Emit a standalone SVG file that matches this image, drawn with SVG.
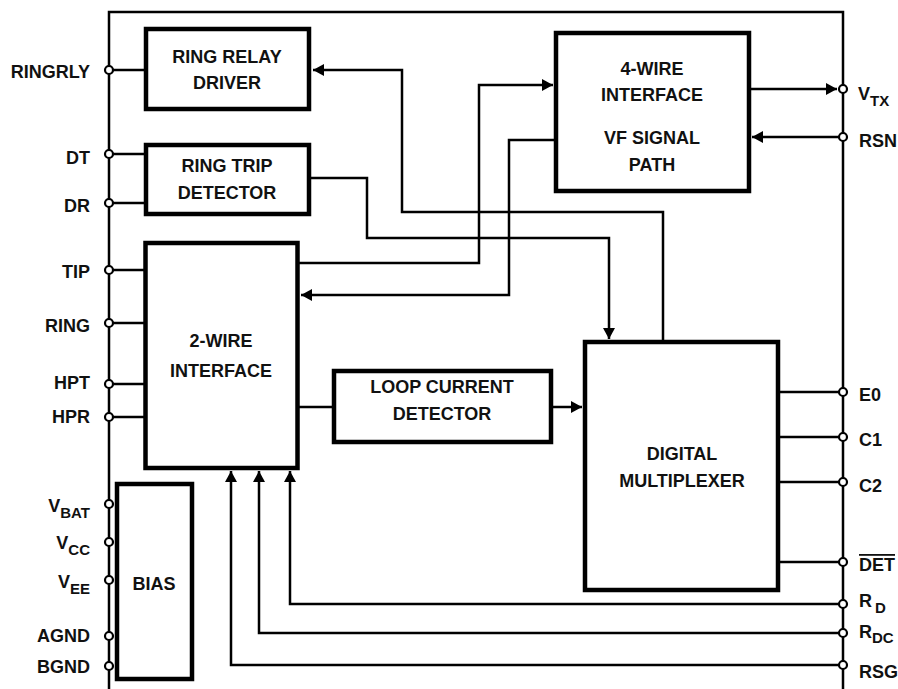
<svg xmlns="http://www.w3.org/2000/svg" width="898" height="689" viewBox="0 0 898 689">
<style>
.box{fill:#fff;stroke:#000;stroke-width:4.5}
.w{fill:none;stroke:#000;stroke-width:2.5}
.pin{fill:#fff;stroke:#000;stroke-width:2.2}
text{font-family:"Liberation Sans",Arial,sans-serif;font-weight:bold;font-size:18px;fill:#111}
.c{text-anchor:middle}
.e{text-anchor:end}
.s{font-size:15px}
</style>
<defs>
<marker id="ah" viewBox="0 0 11 12" refX="11" refY="6" markerWidth="11" markerHeight="12" markerUnits="userSpaceOnUse" orient="auto">
<path d="M0,0 L11,6 L0,12 Z" fill="#000"/>
</marker>
</defs>
<rect width="898" height="689" fill="#fff"/>
<g id="frame">
<path class="w" d="M109,689 V12 H843 V689"/>
</g>
<g id="connectors">
<path class="w" d="M109,70 H146"/>
<path class="w" d="M109,154 H146"/>
<path class="w" d="M109,203 H146"/>
<path class="w" d="M109,270 H146"/>
<path class="w" d="M109,323 H146"/>
<path class="w" d="M109,384 H146"/>
<path class="w" d="M109,417 H146"/>
<path class="w" d="M663,342 V212 H402 V70 H313" marker-end="url(#ah)"/>
<path class="w" d="M309,178 H367 V238 H609 V339" marker-end="url(#ah)"/>
<path class="w" d="M298,263 H479 V85 H553" marker-end="url(#ah)"/>
<path class="w" d="M555,140 H509 V295 H301" marker-end="url(#ah)"/>
<path class="w" d="M298,407 H334"/>
<path class="w" d="M551,407 H582" marker-end="url(#ah)"/>
<path class="w" d="M749,89 H837" marker-end="url(#ah)"/>
<path class="w" d="M843,137 H752" marker-end="url(#ah)"/>
<path class="w" d="M778,392 H843"/>
<path class="w" d="M778,437 H843"/>
<path class="w" d="M778,482 H843"/>
<path class="w" d="M778,562 H843"/>
<path class="w" d="M843,604 H290 V471" marker-end="url(#ah)"/>
<path class="w" d="M843,633 H259 V471" marker-end="url(#ah)"/>
<path class="w" d="M843,665 H231 V471" marker-end="url(#ah)"/>
</g>
<g id="ring-relay-driver">
<rect class="box" x="146" y="29" width="163" height="80"/>
<text class="c" x="227" y="63">RING RELAY</text>
<text class="c" x="227" y="89">DRIVER</text>
</g>
<g id="ring-trip-detector">
<rect class="box" x="146" y="145" width="163" height="69"/>
<text class="c" x="227" y="172">RING TRIP</text>
<text class="c" x="227" y="199">DETECTOR</text>
</g>
<g id="four-wire-interface">
<rect class="box" x="556" y="33" width="193" height="158"/>
<text class="c" x="652" y="75">4-WIRE</text>
<text class="c" x="652" y="101">INTERFACE</text>
<text class="c" x="652" y="144">VF SIGNAL</text>
<text class="c" x="652" y="171">PATH</text>
</g>
<g id="two-wire-interface">
<rect class="box" x="145.5" y="243" width="152" height="225"/>
<text class="c" x="221" y="347">2-WIRE</text>
<text class="c" x="221" y="377">INTERFACE</text>
</g>
<g id="loop-current-detector">
<rect class="box" x="334" y="371" width="217" height="71"/>
<text class="c" x="442" y="393">LOOP CURRENT</text>
<text class="c" x="442" y="420">DETECTOR</text>
</g>
<g id="digital-multiplexer">
<rect class="box" x="585" y="342" width="193" height="248"/>
<text class="c" x="682" y="460">DIGITAL</text>
<text class="c" x="682" y="487">MULTIPLEXER</text>
</g>
<g id="bias">
<rect class="box" x="117" y="484" width="75" height="195"/>
<text class="c" x="154" y="590">BIAS</text>
</g>
<g id="pins-left">
<circle class="pin" cx="109" cy="70" r="4"/>
<circle class="pin" cx="109" cy="154" r="4"/>
<circle class="pin" cx="109" cy="203" r="4"/>
<circle class="pin" cx="109" cy="270" r="4"/>
<circle class="pin" cx="109" cy="323" r="4"/>
<circle class="pin" cx="109" cy="384" r="4"/>
<circle class="pin" cx="109" cy="417" r="4"/>
<circle class="pin" cx="109" cy="504" r="4"/>
<circle class="pin" cx="109" cy="542" r="4"/>
<circle class="pin" cx="109" cy="580" r="4"/>
<circle class="pin" cx="109" cy="636" r="4"/>
<circle class="pin" cx="109" cy="666" r="4"/>
<text class="e" x="90" y="78">RINGRLY</text>
<text class="e" x="90" y="164">DT</text>
<text class="e" x="90" y="212">DR</text>
<text class="e" x="90" y="278">TIP</text>
<text class="e" x="90" y="332">RING</text>
<text class="e" x="90" y="389">HPT</text>
<text class="e" x="90" y="423">HPR</text>
<text class="e" x="90" y="512">V<tspan class="s" dy="6">BAT</tspan></text>
<text class="e" x="90" y="549">V<tspan class="s" dy="6">CC</tspan></text>
<text class="e" x="90" y="588">V<tspan class="s" dy="6">EE</tspan></text>
<text class="e" x="90" y="642">AGND</text>
<text class="e" x="90" y="673">BGND</text>
</g>
<g id="pins-right">
<circle class="pin" cx="843" cy="89" r="4"/>
<circle class="pin" cx="843" cy="137" r="4"/>
<circle class="pin" cx="843" cy="392" r="4"/>
<circle class="pin" cx="843" cy="437" r="4"/>
<circle class="pin" cx="843" cy="482" r="4"/>
<circle class="pin" cx="843" cy="562" r="4"/>
<circle class="pin" cx="843" cy="604" r="4"/>
<circle class="pin" cx="843" cy="633" r="4"/>
<circle class="pin" cx="843" cy="665" r="4"/>
<text x="858" y="100">V<tspan class="s" dy="6">TX</tspan></text>
<text x="859" y="147">RSN</text>
<text x="859" y="401">E0</text>
<text x="859" y="446">C1</text>
<text x="859" y="492">C2</text>
<text x="859" y="571" text-decoration="overline">DET</text>
<text x="859" y="607">R<tspan class="s" dx="3" dy="6">D</tspan></text>
<text x="859" y="638">R<tspan class="s" dy="5">DC</tspan></text>
<text x="859" y="678">RSG</text>
</g>
</svg>
